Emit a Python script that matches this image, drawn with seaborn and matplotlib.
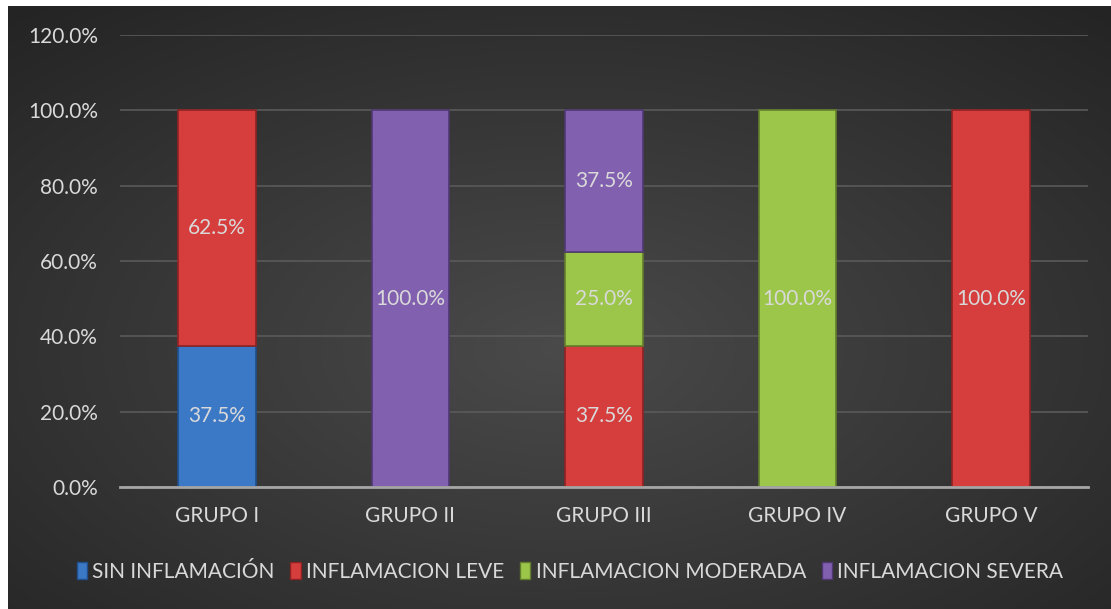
import numpy as np
import pandas as pd
import matplotlib
matplotlib.use("Agg")
import matplotlib.pyplot as plt
from matplotlib.patches import Patch
import seaborn as sns

groups = ["GRUPO I", "GRUPO II", "GRUPO III", "GRUPO IV", "GRUPO V"]
series_names = ["SIN INFLAMACIÓN", "INFLAMACION LEVE", "INFLAMACION MODERADA", "INFLAMACION SEVERA"]
sin_inflamacion = [37.5, 0.0, 0.0, 0.0, 0.0]
inflamacion_leve = [62.5, 0.0, 37.5, 0.0, 100.0]
inflamacion_moderada = [0.0, 0.0, 25.0, 100.0, 0.0]
inflamacion_severa = [0.0, 100.0, 37.5, 0.0, 0.0]
y_ticks = [0, 20, 40, 60, 80, 100, 120]

colors = ["#3b78c6", "#d63d3d", "#9cc64a", "#8260b0"]
edge_colors = ["#1f4f8c", "#8e2222", "#637f2c", "#4f3873"]
text_color = "#d9d9d9"

sns.set_theme(style="dark")
plt.rcParams["font.family"] = ["Lato", "DejaVu Sans"]
FS = 15

W, H, DPI = 1111, 609, 100
fig = plt.figure(figsize=(W / DPI, H / DPI), dpi=DPI)
fig.patch.set_facecolor("white")

# background with radial gradient, white margin on top and left
bg = fig.add_axes([8 / W, 0, 1 - 8 / W, 1 - 6 / H])
yy, xx = np.mgrid[0:300, 0:600]
cx, cy = 300, 170
r = np.sqrt(((xx - cx) / 600) ** 2 + ((yy - cy) / 300) ** 2)
r = np.clip(r / 0.75, 0, 1)
c0 = np.array([0x4a, 0x4a, 0x4a]) / 255
c1 = np.array([0x24, 0x24, 0x24]) / 255
img = c0[None, None, :] * (1 - r[..., None]) + c1[None, None, :] * r[..., None]
bg.imshow(img, aspect="auto", interpolation="bilinear")
bg.set_axis_off()

ax = fig.add_axes([120 / W, 1 - 487 / H, 968 / W, 452 / H])
ax.set_facecolor("none")

df = pd.DataFrame({
    "grupo": groups,
    series_names[0]: sin_inflamacion,
    series_names[1]: inflamacion_leve,
    series_names[2]: inflamacion_moderada,
    series_names[3]: inflamacion_severa,
})

bottom = np.zeros(len(groups))
all_vals = [sin_inflamacion, inflamacion_leve, inflamacion_moderada, inflamacion_severa]
for name, vals, col, ec in zip(series_names, all_vals, colors, edge_colors):
    n_before = len(ax.patches)
    sns.barplot(data=df, x="grupo", y=name, ax=ax, color=col, width=0.40,
                bottom=bottom, edgecolor=ec, linewidth=1.2, zorder=3,
                saturation=1)
    for p in ax.patches[n_before:]:
        if abs(p.get_height()) < 1e-9:
            p.set_visible(False)
    for i, v in enumerate(vals):
        if v > 0:
            ax.text(i, bottom[i] + v / 2, f"{v:.1f}%", ha="center", va="center",
                    color=text_color, fontsize=FS, zorder=5)
    bottom = bottom + np.array(vals)

ax.set_ylim(0, 120)
ax.set_xlim(-0.5, 4.5)
ax.set_yticks(y_ticks)
ax.set_yticklabels([f"{t:.1f}%" for t in y_ticks])
ax.set_xlabel("")
ax.set_ylabel("")
ax.grid(axis="y", color="#5a5a5a", linewidth=1.2, zorder=0)
ax.grid(axis="x", visible=False)
for s in ["top", "right", "left"]:
    ax.spines[s].set_visible(False)
ax.spines["bottom"].set_color("#a6a6a6")
ax.spines["bottom"].set_linewidth(2)
ax.spines["bottom"].set_zorder(4)
ax.tick_params(axis="both", colors=text_color, labelsize=FS, length=0)
ax.tick_params(axis="y", pad=16)
ax.tick_params(axis="x", pad=14)
for lbl in ax.get_xticklabels() + ax.get_yticklabels():
    lbl.set_color(text_color)

handles = [Patch(facecolor=c, edgecolor=e, linewidth=1) for c, e in zip(colors, edge_colors)]
leg = fig.legend(handles, series_names, loc="center", bbox_to_anchor=(0.513, 1 - 572 / H),
                 ncol=4, frameon=False, fontsize=FS, handlelength=0.5,
                 handleheight=0.9, handletextpad=0.25, columnspacing=0.75)
for t in leg.get_texts():
    t.set_color(text_color)

fig.savefig("out.png", dpi=DPI)
